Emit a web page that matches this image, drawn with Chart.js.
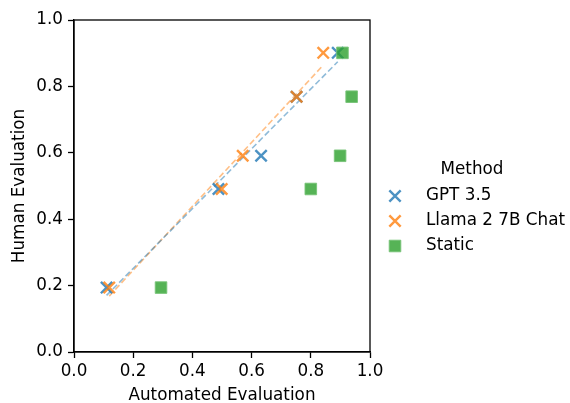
<!DOCTYPE html>
<html>
<head>
<meta charset="utf-8">
<script src="https://cdn.jsdelivr.net/npm/chart.js@4"></script>
<style>
  html, body { margin: 0; padding: 0; background: #fff; }
  canvas { display: block; }
</style>
</head>
<body>
<canvas id="myChart" width="570" height="403"></canvas>
<script>
// human evaluation score per group (same for all methods)
const humanScores = [0.194, 0.491, 0.591, 0.769, 0.901];

const gptAuto = [0.110, 0.488, 0.632, 0.752, 0.891];
const llamaAuto = [0.119, 0.499, 0.570, 0.752, 0.842];
const staticAuto = [0.294, 0.800, 0.899, 0.938, 0.907];

const methodNames = ["GPT 3.5", "Llama 2 7B Chat", "Static"];
const axisTicks = [0, 0.2, 0.4, 0.6, 0.8, 1.0];

const FONT = "'DejaVu Sans', sans-serif";
Chart.defaults.color = "#000";
Chart.defaults.font.family = FONT;
Chart.defaults.font.size = 16.8;

function pairs(xs, ys) {
  return xs.map((x, i) => ({ x: x, y: ys[i] }));
}

// least squares fit, drawn between smallest and largest x
function fitLine(xs, ys) {
  const n = xs.length;
  const mx = xs.reduce((a, b) => a + b, 0) / n;
  const my = ys.reduce((a, b) => a + b, 0) / n;
  let sxy = 0, sxx = 0;
  for (let i = 0; i < n; i++) {
    sxy += (xs[i] - mx) * (ys[i] - my);
    sxx += (xs[i] - mx) * (xs[i] - mx);
  }
  const slope = sxy / sxx;
  const icpt = my - slope * mx;
  const lo = Math.min(...xs), hi = Math.max(...xs);
  return [{ x: lo, y: icpt + slope * lo }, { x: hi, y: icpt + slope * hi }];
}

const blue = "rgba(31, 119, 180, 0.8)";
const orange = "rgba(255, 127, 14, 0.8)";
const green = "rgba(44, 160, 44, 0.8)";

const markerStyles = [
  { pointStyle: "crossRot", radius: 8, borderColor: blue, backgroundColor: blue, borderWidth: 2.4 },
  { pointStyle: "crossRot", radius: 8, borderColor: orange, backgroundColor: orange, borderWidth: 2.4 },
  { pointStyle: "rect", radius: 8.2, borderColor: "rgba(120, 195, 120, 0.9)", backgroundColor: green, borderWidth: 1 },
];

function scatterSet(i, xs, order) {
  const s = markerStyles[i];
  return {
    type: "scatter",
    label: methodNames[i],
    data: pairs(xs, humanScores),
    pointStyle: s.pointStyle,
    pointRadius: s.radius,
    pointHoverRadius: s.radius,
    pointBorderWidth: s.borderWidth,
    pointBorderColor: s.borderColor,
    pointBackgroundColor: s.backgroundColor,
    showLine: false,
    order: order,
  };
}

function trendSet(xs, color) {
  return {
    type: "line",
    data: fitLine(xs, humanScores),
    borderColor: color,
    borderWidth: 1.6,
    borderDash: [6, 3],
    pointRadius: 0,
    fill: false,
    order: 10,
  };
}

const boxPlugin = {
  id: "box",
  afterDraw(chart) {
    const { ctx, chartArea: a } = chart;
    ctx.save();
    ctx.strokeStyle = "#000";
    ctx.lineWidth = 1.3;
    ctx.strokeRect(a.left, a.top, a.right - a.left, a.bottom - a.top);
    ctx.restore();
  },
};

const legendPlugin = {
  id: "methodLegend",
  afterDraw(chart) {
    const ctx = chart.ctx;
    ctx.save();
    ctx.font = "16.8px " + FONT;
    ctx.fillStyle = "#000";
    ctx.textBaseline = "middle";
    ctx.textAlign = "center";
    ctx.fillText("Method", 472, 170);
    ctx.textAlign = "left";
    const rows = [196, 221, 246];
    methodNames.forEach((name, i) => {
      const s = markerStyles[i];
      ctx.strokeStyle = s.borderColor;
      ctx.fillStyle = s.backgroundColor;
      ctx.lineWidth = s.borderWidth;
      Chart.helpers.drawPoint(ctx, { pointStyle: s.pointStyle, radius: s.radius, borderWidth: s.borderWidth }, 395, rows[i]);
      ctx.fillStyle = "#000";
      ctx.fillText(name, 426, rows[i]);
    });
    ctx.restore();
  },
};

const ctx = document.getElementById("myChart");
new Chart(ctx, {
  data: {
    datasets: [
      scatterSet(0, gptAuto, 3),
      scatterSet(1, llamaAuto, 2),
      scatterSet(2, staticAuto, 1),
      trendSet(gptAuto, "rgba(31, 119, 180, 0.5)"),
      trendSet(llamaAuto, "rgba(255, 127, 14, 0.5)"),
    ],
  },
  options: {
    responsive: false,
    animation: false,
    devicePixelRatio: 1,
    layout: { padding: { top: 20, right: 200, left: 0, bottom: 0 } },
    plugins: { legend: { display: false }, tooltip: { enabled: false } },
    scales: {
      x: {
        type: "linear",
        min: 0,
        max: 1,
        afterFit(scale) { scale.height = 51; },
        afterBuildTicks(scale) { scale.ticks = axisTicks.map(v => ({ value: v })); },
        ticks: { maxRotation: 0, autoSkip: false, padding: 4, callback: v => v.toFixed(1) },
        grid: { drawOnChartArea: false, drawTicks: true, tickLength: 6, color: "#000", tickWidth: 1.3 },
        border: { display: true, color: "#000", width: 1.3 },
        title: { display: true, text: "Automated Evaluation", padding: { top: 0, bottom: -1 }, font: { lineHeight: 1 } },
      },
      y: {
        type: "linear",
        min: 0,
        max: 1,
        afterFit(scale) { scale.width = 74; },
        afterBuildTicks(scale) { scale.ticks = axisTicks.map(v => ({ value: v })); },
        ticks: { autoSkip: false, padding: 5, callback: v => v.toFixed(1) },
        grid: { drawOnChartArea: false, drawTicks: true, tickLength: 6, color: "#000", tickWidth: 1.3 },
        border: { display: true, color: "#000", width: 1.3 },
        title: { display: true, text: "Human Evaluation", padding: { top: 11, bottom: 0 }, font: { lineHeight: 1 } },
      },
    },
  },
  plugins: [boxPlugin, legendPlugin],
});
</script>
</body>
</html>
